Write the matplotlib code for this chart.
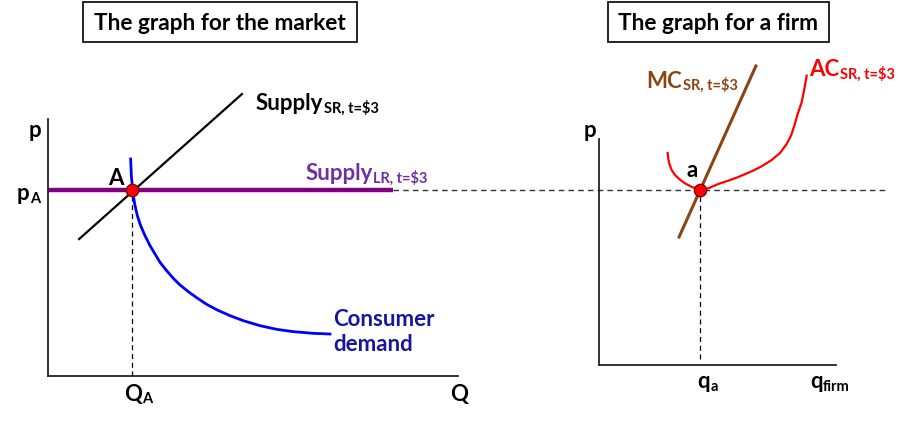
import matplotlib
matplotlib.use("Agg")
from matplotlib import pyplot as plt
from matplotlib.patches import Rectangle

plt.rcParams['font.family'] = ['Lato', 'DejaVu Sans']

# ---- market graph (Q on x, p on y, arbitrary units 0..10) ----
p_A = 7.24
Q_A = 2.05
supply_sr_q = [0.76, 4.73]
supply_sr_p = [5.33, 10.97]
supply_lr_q = [0.0, 8.41]
dash_end_q = 20.49          # dashed price line runs on into the firm graph
demand_q = [2.016, 2.033, 2.065, 2.114, 2.179, 2.260, 2.366, 2.488, 2.610, 2.732,
            2.894, 3.057, 3.220, 3.423, 3.626, 3.870, 4.114, 4.439, 4.764, 5.171,
            5.577, 5.984, 6.472, 6.878]
demand_p = [8.444, 7.795, 7.211, 6.693, 6.238, 5.850, 5.460, 5.071, 4.747, 4.423,
            4.098, 3.800, 3.541, 3.281, 3.047, 2.788, 2.580, 2.347, 2.152, 1.958,
            1.816, 1.725, 1.660, 1.634]

# ---- firm graph ----
q_a = 4.26
mc_q = [3.38, 6.62]
mc_p = [5.30, 12.37]
ac_q = [2.897, 2.925, 2.982, 3.066, 3.207, 3.418, 3.629, 3.910, 4.26, 4.61,
        5.035, 5.457, 5.949, 6.442, 6.864, 7.286, 7.637, 7.918, 8.101, 8.242,
        8.383, 8.551, 8.664, 8.762]
ac_p = [8.771, 8.523, 8.275, 8.068, 7.861, 7.668, 7.516, 7.370, 7.24, 7.31,
        7.489, 7.627, 7.806, 8.013, 8.220, 8.482, 8.771, 9.144, 9.488, 9.902,
        10.385, 10.867, 11.419, 11.971]

W, H = 906, 427
fig = plt.figure(figsize=(W / 100, H / 100), dpi=100)

def px_axes(x0, y0, x1, y1):
    # axes from pixel box (top-left origin)
    return fig.add_axes([x0 / W, (H - y1) / H, (x1 - x0) / W, (y1 - y0) / H])

def sublabel(ax, x, y, main, sub, color='black', size=16, subsize=10.5):
    t = ax.text(x, y, main, color=color, fontsize=size, fontweight='bold',
                ha='left', va='baseline', parse_math=False)
    ax.annotate(sub, xy=(1, 0), xycoords=t, xytext=(0.5, -1.2),
                textcoords='offset points', color=color, fontsize=subsize,
                fontweight='bold', ha='left', va='bottom', parse_math=False)
    return t

def setup(ax, xmax, ymax):
    ax.set_xlim(0, xmax)
    ax.set_ylim(0, ymax)
    for s in ['top', 'right']:
        ax.spines[s].set_visible(False)
    for s in ['left', 'bottom']:
        ax.spines[s].set_linewidth(1.3)
        ax.spines[s].set_color('#222222')
    ax.set_xticks([])
    ax.set_yticks([])
    ax.patch.set_alpha(0)

def title_box(x0, y0, x1, y1, text):
    fig.patches.append(Rectangle((x0 / W, (H - y1) / H), (x1 - x0) / W, (y1 - y0) / H,
                                 transform=fig.transFigure, fill=False,
                                 edgecolor='black', linewidth=1.2))
    fig.text((x0 + x1) / 2 / W, (H - (y0 + y1) / 2) / H, text, ha='center',
             va='center', fontsize=16.3, fontweight='bold')

title_box(83, 3, 357, 43, 'The graph for the market')
title_box(608, 3, 829, 43, 'The graph for a firm')

# market
ax1 = px_axes(48, 120, 458, 377)
setup(ax1, 10, 10)
ax1.plot([Q_A, Q_A], [0, p_A], color='black', lw=0.9, ls=(0, (4, 3)))
ax1.plot([supply_lr_q[1], dash_end_q], [p_A, p_A], color='#333333', lw=1.0,
         ls=(0, (4, 3)), clip_on=False)
ax1.plot(supply_lr_q, [p_A, p_A], color='#800080', lw=3.2, clip_on=False,
         solid_capstyle='butt')
ax1.plot(supply_sr_q, supply_sr_p, color='black', lw=1.6, clip_on=False)
ax1.plot(demand_q, demand_p, color='#0000FF', lw=2.0, clip_on=False,
         solid_joinstyle='round')
ax1.plot([Q_A], [p_A], 'o', ms=9, mfc='#FF0000', mec='#600000', mew=0.8,
         clip_on=False, zorder=5)

sublabel(ax1, 5.07, 10.39, 'Supply', 'SR, t=$3')
sublabel(ax1, 6.27, 7.67, 'Supply', 'LR, t=$3', color='#7030A0')
ax1.text(1.66, 7.47, 'A', fontsize=16, fontweight='bold', ha='center', va='baseline')
ax1.text(-0.32, 9.34, 'p', fontsize=16, fontweight='bold', ha='center', va='baseline')
sublabel(ax1, -0.76, 6.89, 'p', 'A')
sublabel(ax1, 1.85, -0.92, 'Q', 'A')
ax1.text(9.8, -0.92, 'Q', fontsize=16, fontweight='bold', ha='left', va='baseline')
ax1.text(6.95, 2.66, 'Consumer\ndemand', fontsize=16, fontweight='bold',
         color='#1515A0', ha='left', va='top', linespacing=1.25)

# firm
ax2 = px_axes(599, 140, 836, 366)
setup(ax2, 10, 9.35)
ax2.plot([q_a, q_a], [0.25, p_A], color='black', lw=0.9, ls=(0, (4, 3)))
ax2.plot(mc_q, mc_p, color='#8B4513', lw=2.2, clip_on=False)
ax2.plot(ac_q, ac_p, color='#FF0000', lw=1.6, clip_on=False,
         solid_joinstyle='round')
ax2.plot([q_a], [p_A], 'o', ms=9, mfc='#FF0000', mec='#600000', mew=0.8,
         clip_on=False, zorder=5)

ax2.text(-0.40, 9.47, 'p', fontsize=16, fontweight='bold', ha='center', va='baseline')
ax2.text(3.92, 7.82, 'a', fontsize=16, fontweight='bold', ha='center', va='baseline')
sublabel(ax2, 2.0, 11.52, 'MC', 'SR, t=$3', color='#8B4513')
sublabel(ax2, 8.88, 11.98, 'AC', 'SR, t=$3', color='#FF0000')
sublabel(ax2, 4.14, -0.91, 'q', 'a')
sublabel(ax2, 8.90, -0.91, 'q', 'firm')

fig.savefig('out.png', dpi=100)
